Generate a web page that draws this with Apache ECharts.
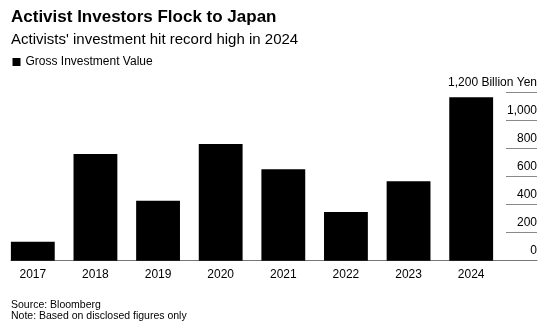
<!DOCTYPE html>
<html>
<head>
<meta charset="utf-8">
<script src="https://cdn.jsdelivr.net/npm/echarts@6/dist/echarts.min.js"></script>
<style>
html,body{margin:0;padding:0;background:#fff;}
#chart{width:550px;height:333px;}
</style>
</head>
<body>
<div id="chart"></div>
<script>
const categories = ['2017', '2018', '2019', '2020', '2021', '2022', '2023', '2024'];
const grossInvestment = [136, 762, 429, 834, 653, 348, 567, 1167];
const yMin = 0;
const yMax = 1200;
const yInterval = 200;
const yUnit = 'Billion Yen';

const FONT = '"Liberation Sans", Arial, sans-serif';
const chart = echarts.init(document.getElementById('chart'));

chart.setOption({
  animation: false,
  backgroundColor: '#ffffff',
  textStyle: { fontFamily: FONT },
  title: [
    { text: 'Activist Investors Flock to Japan', left: 11, top: 9, padding: 0,
      textStyle: { fontFamily: FONT, fontSize: 17, fontWeight: 'bold', color: '#000' } },
    { text: "Activists' investment hit record high in 2024", left: 11, top: 32, padding: 0,
      textStyle: { fontFamily: FONT, fontSize: 15, fontWeight: 'normal', color: '#000' } },
    { text: 'Source: Bloomberg\nNote: Based on disclosed figures only', left: 11, top: 300, padding: 0,
      textStyle: { fontFamily: FONT, fontSize: 10.5, lineHeight: 11, fontWeight: 'normal', color: '#000' } }
  ],
  legend: {
    left: 12.5, top: 56, padding: 0,
    icon: 'rect', itemWidth: 8, itemHeight: 8, itemGap: 10,
    textStyle: { fontFamily: FONT, fontSize: 12, color: '#000' },
    data: ['Gross Investment Value']
  },
  grid: [
    { left: 1.5, right: 47.5, top: 92.7, bottom: 72.3 },
    { left: 11, right: 13, top: 92.7, bottom: 72.3 },
    { left: 506, right: 13, top: 92.7, bottom: 72.3 }
  ],
  xAxis: [
    { type: 'category', gridIndex: 0, data: categories,
      axisLine: { show: false }, axisTick: { show: false },
      axisLabel: { fontFamily: FONT, fontSize: 12, color: '#000', margin: 8 } },
    { type: 'value', gridIndex: 1, min: 0, max: 1,
      axisLine: { show: true, lineStyle: { color: '#777', width: 1 } },
      axisTick: { show: false }, axisLabel: { show: false }, splitLine: { show: false } },
    { type: 'value', gridIndex: 2, min: 0, max: 1, show: false }
  ],
  yAxis: [
    { type: 'value', gridIndex: 0, min: yMin, max: yMax, interval: yInterval, show: false },
    { type: 'value', gridIndex: 1, min: yMin, max: yMax, interval: yInterval, show: false },
    { type: 'value', gridIndex: 2, position: 'right',
      min: yMin, max: yMax, interval: yInterval,
      axisLine: { show: false },
      axisTick: { show: false },
      splitLine: { show: true, lineStyle: { color: '#888', width: 1 } },
      axisLabel: {
        inside: true, margin: 0, align: 'right', verticalAlign: 'bottom',
        padding: [0, 0, 4, 0],
        fontFamily: FONT, fontSize: 12, color: '#000',
        formatter: function (v) {
          const s = v.toLocaleString('en-US');
          return v === yMax ? s + ' ' + yUnit : s;
        }
      } }
  ],
  series: [
    { name: 'Gross Investment Value', type: 'bar', xAxisIndex: 0, yAxisIndex: 0,
      data: grossInvestment, barCategoryGap: '30%',
      itemStyle: { color: '#000' } }
  ]
});
</script>
</body>
</html>
